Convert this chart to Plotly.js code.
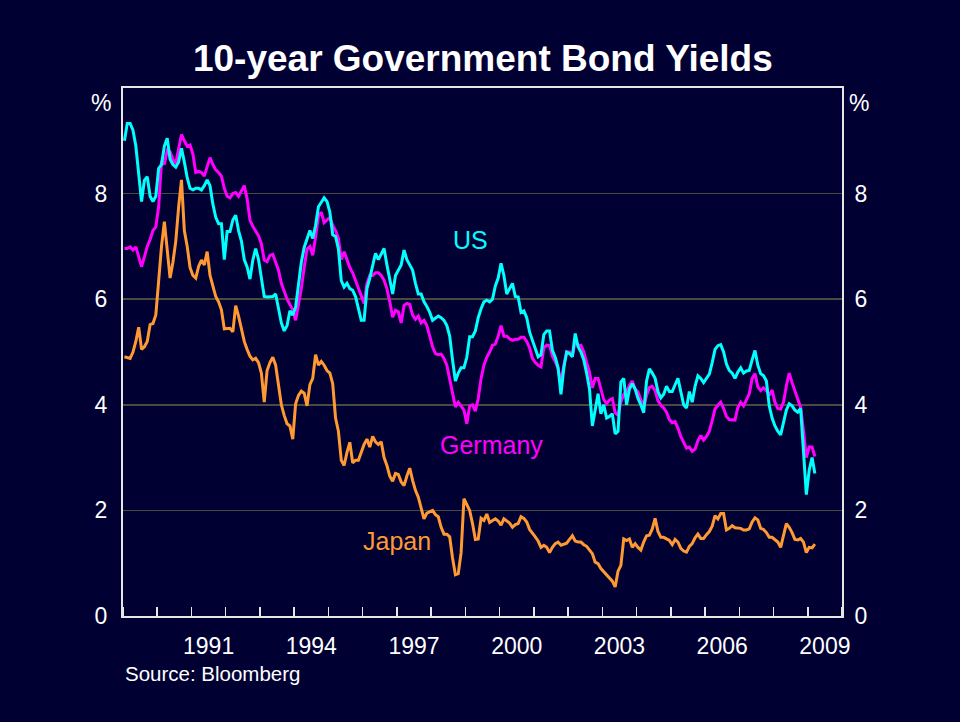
<!DOCTYPE html>
<html>
<head>
<meta charset="utf-8">
<script src="https://cdn.plot.ly/plotly-3.0.1.min.js"></script>
<style>html,body{margin:0;padding:0;background:#000033;}#chart{width:960px;height:722px;}</style>
</head>
<body>
<div id="chart"></div>
<script>
// Monthly series, starting January 1989 (plotted mid-month)
const startYear = 1989;
const us = [9.0,9.33,9.33,9.2,8.9,8.3,7.85,8.25,8.32,7.95,7.85,7.95,
8.48,8.55,8.9,9.05,8.65,8.55,8.5,8.6,8.86,8.6,8.3,8.1,
8.07,8.1,8.1,8.07,8.15,8.26,8.15,7.8,7.55,7.43,7.43,6.75,
7.28,7.28,7.5,7.59,7.3,7.1,6.75,6.61,6.38,6.74,6.96,6.75,
6.4,6.05,6.04,6.04,6.05,6.1,5.8,5.55,5.4,5.5,5.78,5.7,
5.85,6.3,6.7,6.98,7.15,7.3,7.15,7.4,7.75,7.84,7.92,7.85,
7.65,7.22,7.19,6.95,6.35,6.23,6.3,6.2,6.17,6.05,5.8,5.6,
5.6,6.2,6.4,6.65,6.87,6.75,6.85,6.96,6.65,6.4,6.1,6.45,
6.55,6.65,6.93,6.75,6.65,6.55,6.3,6.1,6.1,5.95,5.86,5.75,
5.6,5.64,5.68,5.65,5.6,5.5,5.3,4.85,4.45,4.6,4.7,4.7,
4.9,5.29,5.29,5.4,5.65,5.82,5.95,5.98,5.95,6.0,6.25,6.4,
6.68,6.45,6.1,6.2,6.3,6.05,6.04,5.75,5.78,5.65,5.38,5.22,
5.05,4.91,4.95,5.33,5.4,5.4,5.03,4.9,4.7,4.2,4.7,5.0,
4.97,4.91,5.35,5.1,5.0,4.85,4.6,4.3,3.6,3.9,4.21,3.83,
4.0,3.75,3.78,3.83,3.45,3.5,4.43,4.5,4.0,4.3,4.4,4.3,
4.12,4.0,3.85,4.45,4.68,4.6,4.5,4.25,4.13,4.2,4.35,4.25,
4.25,4.38,4.5,4.25,4.0,3.94,4.25,4.05,4.35,4.55,4.5,4.42,
4.5,4.58,4.8,5.05,5.12,5.14,5.0,4.77,4.65,4.6,4.5,4.62,
4.7,4.6,4.64,4.65,4.85,5.03,4.75,4.59,4.55,4.45,3.98,3.75,
3.6,3.5,3.43,3.7,3.9,4.02,3.98,3.9,3.86,3.93,3.2,2.3,
2.76,3.0,2.7];
const germany = [6.96,6.96,6.99,6.93,6.99,6.78,6.62,6.8,7.0,7.13,7.3,7.37,
7.75,8.62,8.55,8.82,8.79,8.65,8.57,8.85,9.12,9.0,8.9,8.92,
8.75,8.4,8.42,8.4,8.33,8.51,8.68,8.55,8.45,8.4,8.33,8.1,
7.95,7.92,8.0,8.02,7.95,8.05,8.15,7.9,7.5,7.38,7.3,7.2,
7.05,6.74,6.71,6.83,6.85,6.7,6.55,6.3,6.15,6.0,5.9,5.8,
5.6,5.9,6.2,6.6,6.95,7.0,6.83,7.18,7.58,7.65,7.45,7.5,
7.55,7.4,7.3,7.15,6.75,6.9,6.75,6.6,6.5,6.36,6.2,6.05,
5.92,6.3,6.45,6.45,6.5,6.5,6.45,6.36,6.2,5.95,5.66,5.79,
5.76,5.55,5.88,5.92,5.9,5.7,5.62,5.68,5.55,5.6,5.5,5.3,
5.1,4.97,4.95,4.96,4.88,4.75,4.5,4.2,3.96,4.05,3.98,3.9,
3.64,3.98,4.0,3.88,4.12,4.5,4.75,4.9,5.0,5.13,5.15,5.3,
5.5,5.3,5.3,5.25,5.22,5.24,5.24,5.28,5.28,5.2,5.08,4.88,
4.8,4.75,4.72,5.08,5.13,5.12,4.92,4.82,4.68,4.42,4.75,5.0,
5.0,4.93,5.2,5.12,5.13,5.0,4.8,4.62,4.32,4.5,4.5,4.28,
4.1,4.02,4.09,4.12,3.85,3.8,4.05,4.2,4.25,4.37,4.45,4.3,
4.24,4.1,3.96,4.18,4.33,4.35,4.27,4.08,3.99,3.94,3.86,3.72,
3.66,3.68,3.56,3.4,3.3,3.18,3.2,3.12,3.16,3.32,3.42,3.33,
3.4,3.5,3.7,3.92,3.99,4.05,3.93,3.78,3.72,3.71,3.71,3.95,
4.05,3.98,4.1,4.21,4.5,4.59,4.34,4.27,4.32,4.27,4.18,4.28,
4.05,3.93,3.92,4.05,4.36,4.6,4.42,4.25,4.1,3.95,3.5,3.0,
3.2,3.2,3.02];
const japan = [4.91,4.9,4.88,5.0,5.2,5.47,5.05,5.1,5.2,5.52,5.54,5.7,
6.4,7.0,7.47,6.9,6.4,6.7,7.1,7.75,8.26,7.3,7.0,6.6,
6.45,6.4,6.62,6.74,6.65,6.9,6.45,6.25,6.05,5.95,5.8,5.44,
5.44,5.45,5.38,5.88,5.68,5.45,5.2,5.05,4.92,4.85,4.88,4.8,
4.6,4.05,4.65,4.8,4.9,4.75,4.4,4.0,3.8,3.64,3.6,3.35,
4.02,4.18,4.26,4.22,3.98,4.38,4.5,4.95,4.75,4.82,4.75,4.65,
4.6,4.4,3.75,3.5,2.95,2.85,3.1,3.29,2.9,2.95,2.95,3.1,
3.25,3.35,3.2,3.4,3.3,3.25,3.3,3.0,2.85,2.65,2.55,2.7,
2.68,2.54,2.47,2.65,2.8,2.57,2.38,2.25,2.05,1.84,1.95,1.98,
2.0,1.92,1.88,1.68,1.55,1.55,1.5,1.1,0.78,0.8,1.2,2.22,
2.1,2.0,1.75,1.45,1.46,1.85,1.81,1.93,1.77,1.8,1.84,1.8,
1.72,1.84,1.8,1.76,1.68,1.73,1.75,1.88,1.85,1.78,1.64,1.58,
1.5,1.42,1.3,1.34,1.3,1.2,1.3,1.37,1.4,1.34,1.36,1.38,
1.45,1.52,1.42,1.4,1.4,1.35,1.32,1.24,1.18,1.02,0.99,0.9,
0.84,0.78,0.74,0.66,0.55,0.85,0.96,1.46,1.43,1.46,1.3,1.37,
1.3,1.25,1.4,1.52,1.53,1.65,1.85,1.6,1.49,1.49,1.46,1.43,
1.35,1.45,1.4,1.28,1.23,1.21,1.32,1.37,1.48,1.55,1.47,1.47,
1.54,1.6,1.7,1.9,1.84,1.94,1.94,1.63,1.66,1.71,1.67,1.67,
1.66,1.63,1.63,1.65,1.78,1.86,1.82,1.66,1.64,1.58,1.49,1.49,
1.45,1.4,1.3,1.5,1.75,1.68,1.58,1.45,1.44,1.47,1.4,1.2,
1.3,1.29,1.36];
const yearLabels = ['1991','1994','1997','2000','2003','2006','2009'];
const yTicks = [0,2,4,6,8];
const seriesNames = ['US','Germany','Japan'];

function monthX(arr){ return arr.map((_, i) => startYear + (i + 0.5) / 12); }

const BG = '#000033';
const FONT = 'Arial, "Liberation Sans", sans-serif';
const colors = {US:'#00FFFF', Germany:'#FF00FF', Japan:'#FF9933'};

const traces = [
  {x: monthX(japan), y: japan, name:'Japan', type:'scatter', mode:'lines', yaxis:'y2',
   line:{color:colors.Japan, width:3}},
  {x: monthX(germany), y: germany, name:'Germany', type:'scatter', mode:'lines',
   line:{color:colors.Germany, width:3}},
  {x: monthX(us), y: us, name:'US', type:'scatter', mode:'lines',
   line:{color:colors.US, width:3}}
];

const yearTickVals = yearLabels.map(s => parseInt(s,10) + 0.5);

const yCommon = {
  range:[0,10], tickmode:'array', tickvals:yTicks, ticktext:yTicks.map(String),
  ticks:'', showgrid:true, gridcolor:'#4a4a42', gridwidth:1.5, zeroline:false,
  tickfont:{family:FONT, size:23, color:'#ffffff'}, fixedrange:true
};

const layout = {
  width:960, height:722,
  paper_bgcolor:BG, plot_bgcolor:BG,
  margin:{l:123, r:118, t:88, b:106},
  showlegend:false,
  title:{text:'<b>10-year Government Bond Yields</b>', x:0.503, xanchor:'center',
         y:1 - 58/722, yanchor:'middle', yref:'container',
         font:{family:FONT, size:37, color:'#ffffff'}},
  xaxis:{
    range:[1989, 2010], tickmode:'array', tickvals:yearTickVals, ticktext:yearLabels,
    ticks:'', showgrid:false, zeroline:false,
    showline:true, linecolor:'#e6e6e6', linewidth:2, mirror:true,
    tickfont:{family:FONT, size:23, color:'#ffffff'}, ticklabelstandoff:8,
    minor:{tickmode:'linear', tick0:1990, dtick:1, ticks:'inside', ticklen:9,
           tickcolor:'#e6e6e6', tickwidth:1.5, showgrid:false}
  },
  yaxis:Object.assign({}, yCommon, {side:'left', showline:true, linecolor:'#e6e6e6', linewidth:2, ticklabelstandoff:9}),
  yaxis2:Object.assign({}, yCommon, {side:'right', overlaying:'y', showgrid:false,
    showline:true, linecolor:'#e6e6e6', linewidth:2, ticklabelstandoff:6}),
  annotations:[
    {text:'%', xref:'paper', x:0, xanchor:'right', xshift:-10, yref:'y', y:9.72, yanchor:'middle',
     showarrow:false, font:{family:FONT, size:23, color:'#ffffff'}},
    {text:'%', xref:'paper', x:1, xanchor:'left', xshift:5, yref:'y', y:9.72, yanchor:'middle',
     showarrow:false, font:{family:FONT, size:23, color:'#ffffff'}},
    {text:'US', xref:'x', x:1999.15, yref:'y', y:7.12, showarrow:false,
     font:{family:FONT, size:25, color:colors.US}},
    {text:'Germany', xref:'x', x:1999.77, yref:'y', y:3.23, showarrow:false,
     font:{family:FONT, size:25, color:colors.Germany}},
    {text:'Japan', xref:'x', x:1996.99, yref:'y', y:1.43, showarrow:false,
     font:{family:FONT, size:25, color:colors.Japan}},
    {text:'Source: Bloomberg', xref:'paper', x:0, xanchor:'left', yref:'paper', y:-0.109, yanchor:'middle',
     showarrow:false, font:{family:FONT, size:20.5, color:'#ffffff'}}
  ]
};

Plotly.newPlot('chart', traces, layout, {displayModeBar:false, staticPlot:true});
</script>
</body>
</html>
